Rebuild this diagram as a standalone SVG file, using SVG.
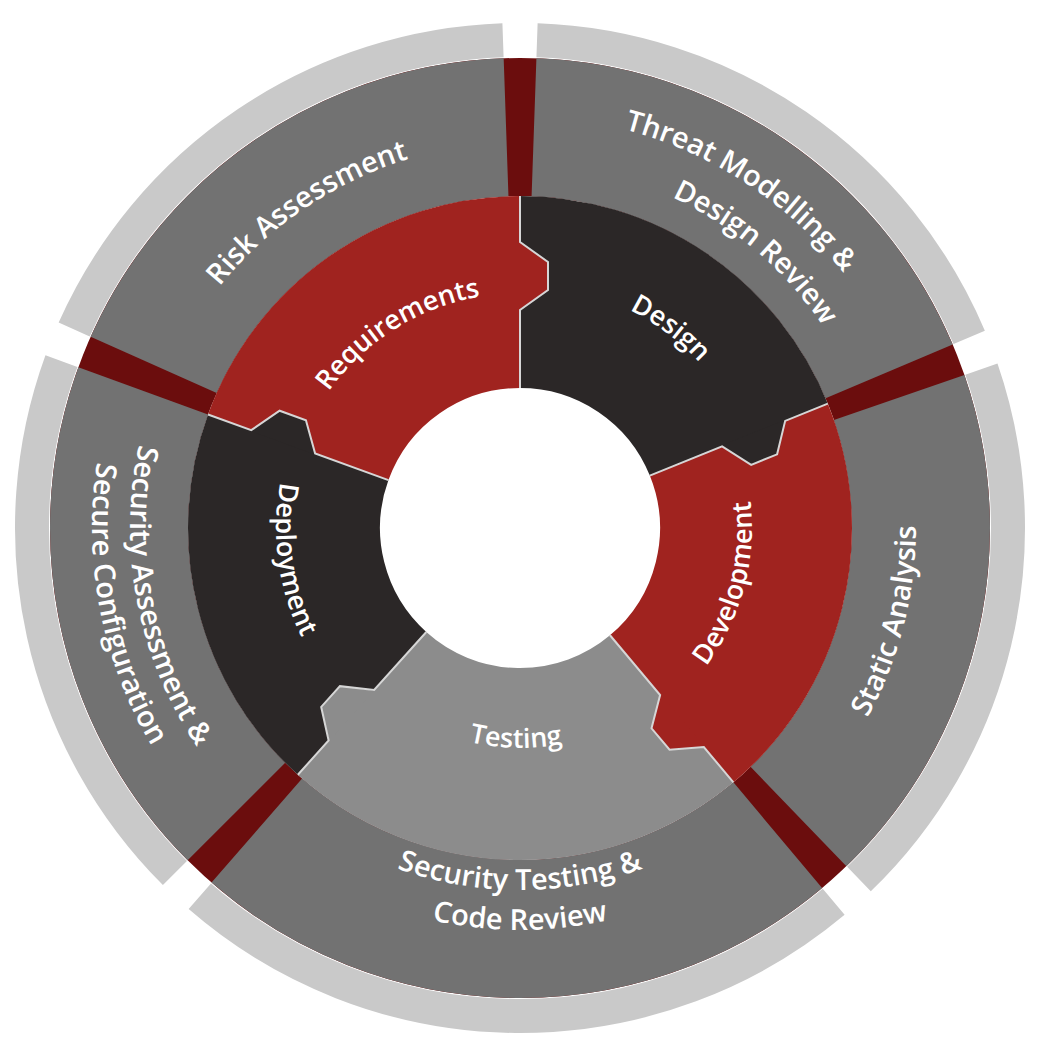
<svg xmlns="http://www.w3.org/2000/svg" width="1050" height="1050" viewBox="0 0 1050 1050">
<defs>
<style>
.seg{fill:none}
.t{font-family:"Open Sans","Liberation Sans",sans-serif;font-weight:600;fill:#fff;text-anchor:middle}
.to{font-size:29px}
.ti{font-size:27px}
.bd{fill:none;stroke:#d6d6d6;stroke-width:2}
</style>
<path id="c385" d="M248,800 A385 385 0 1 1 792,800"/>
<path id="c412" d="M228.7,819.3 A412 412 0 1 1 811.3,819.3"/>
<path id="c364" d="M262.6,785.4 A364 364 0 1 1 777.4,785.4"/>
<path id="c235" d="M353.8,694.2 A235 235 0 1 1 686.2,694.2"/>
<path id="c244" d="M347.5,700.5 A244 244 0 1 1 692.5,700.5"/>
<path id="a232" d="M356,364 A232 232 0 1 0 684,364"/>
<path id="a220" d="M364.4,372.4 A220 220 0 1 0 675.6,372.4"/>
<path id="a244" d="M347.5,355.5 A244 244 0 1 0 692.5,355.5"/>
<path id="a396" d="M240,248 A396 396 0 1 0 800,248"/>
<path id="a362" d="M264,272 A362 362 0 1 0 776,272"/>
<path id="a402" d="M235.7,243.7 A402 402 0 1 0 804.3,243.7"/>
<path id="a390" d="M244.2,252.2 A390 390 0 1 0 795.8,252.2"/>
<path id="a428" d="M217.4,225.4 A428 428 0 1 0 822.6,225.4"/>
</defs>
<rect width="1050" height="1050" fill="#fff"/>
<g id="outer-ring">
<circle cx="520" cy="528" r="401" fill="none" stroke="#6b0d0d" stroke-width="138"/>
</g>
<g id="risk-assessment">
<circle class="seg" cx="520" cy="528" r="488" pathLength="360" stroke="#c9c9c9" stroke-width="34" stroke-dasharray="64 296" transform="rotate(204 520 528)"/>
<circle class="seg" cx="520" cy="528" r="401" pathLength="360" stroke="#727272" stroke-width="138" stroke-dasharray="64 296" transform="rotate(204 520 528)"/>
<text class="t to"><textPath href="#c385" startOffset="37.4%">Risk Assessment</textPath></text>
</g>
<g id="threat-modelling">
<circle class="seg" cx="520" cy="528" r="488" pathLength="360" stroke="#c9c9c9" stroke-width="34" stroke-dasharray="65 295" transform="rotate(-88 520 528)"/>
<circle class="seg" cx="520" cy="528" r="401" pathLength="360" stroke="#727272" stroke-width="138" stroke-dasharray="65 295" transform="rotate(-88 520 528)"/>
<text class="t to"><textPath href="#c412" startOffset="62.3%">Threat Modelling &amp;</textPath></text>
<text class="t to"><textPath href="#c364" startOffset="65%">Design Review</textPath></text>
</g>
<g id="static-analysis">
<circle class="seg" cx="520" cy="528" r="488" pathLength="360" stroke="#c9c9c9" stroke-width="34" stroke-dasharray="65 295" transform="rotate(-19 520 528)"/>
<circle class="seg" cx="520" cy="528" r="401" pathLength="360" stroke="#727272" stroke-width="138" stroke-dasharray="65 295" transform="rotate(-19 520 528)"/>
<text class="t to"><textPath href="#a396" startOffset="78.1%">Static Analysis</textPath></text>
</g>
<g id="security-testing">
<circle class="seg" cx="520" cy="528" r="488" pathLength="360" stroke="#c9c9c9" stroke-width="34" stroke-dasharray="81 279" transform="rotate(50 520 528)"/>
<circle class="seg" cx="520" cy="528" r="401" pathLength="360" stroke="#727272" stroke-width="138" stroke-dasharray="81 279" transform="rotate(50 520 528)"/>
<text class="t to"><textPath href="#a362" startOffset="50%">Security Testing &amp;</textPath></text>
<text class="t to"><textPath href="#a402" startOffset="50%">Code Review</textPath></text>
</g>
<g id="security-assessment">
<circle class="seg" cx="520" cy="528" r="488" pathLength="360" stroke="#c9c9c9" stroke-width="34" stroke-dasharray="65 295" transform="rotate(135 520 528)"/>
<circle class="seg" cx="520" cy="528" r="401" pathLength="360" stroke="#727272" stroke-width="138" stroke-dasharray="65 295" transform="rotate(135 520 528)"/>
<text class="t to"><textPath href="#a390" startOffset="20.7%">Security Assessment &amp;</textPath></text>
<text class="t to"><textPath href="#a428" startOffset="20.7%">Secure Configuration</textPath></text>
</g>
<g id="requirements">
<circle class="seg" cx="520" cy="528" r="236" pathLength="360" stroke="#a0231f" stroke-width="192" stroke-dasharray="70 290" transform="rotate(200 520 528)"/>
</g>
<g id="design">
<circle class="seg" cx="520" cy="528" r="236" pathLength="360" stroke="#2b2727" stroke-width="192" stroke-dasharray="68 292" transform="rotate(-90 520 528)"/>
</g>
<g id="development">
<circle class="seg" cx="520" cy="528" r="236" pathLength="360" stroke="#a0231f" stroke-width="192" stroke-dasharray="72 288" transform="rotate(-22 520 528)"/>
</g>
<g id="testing">
<circle class="seg" cx="520" cy="528" r="236" pathLength="360" stroke="#8c8c8c" stroke-width="192" stroke-dasharray="82 278" transform="rotate(50 520 528)"/>
</g>
<g id="deployment">
<circle class="seg" cx="520" cy="528" r="236" pathLength="360" stroke="#2b2727" stroke-width="192" stroke-dasharray="68 292" transform="rotate(132 520 528)"/>
</g>
<g id="connectors">
<g transform="rotate(0 520 528)"><polygon points="519,310 548,290 548,262 519,242" fill="#a0231f"/><polyline class="bd" points="520,388 520,310 548,290 548,262 520,242 520,196"/></g>
<g transform="rotate(68 520 528)"><polygon points="519,310 548,290 548,262 519,242" fill="#2b2727"/><polyline class="bd" points="520,388 520,310 548,290 548,262 520,242 520,196"/></g>
<g transform="rotate(140 520 528)"><polygon points="519,310 548,290 548,262 519,242" fill="#a0231f"/><polyline class="bd" points="520,388 520,310 548,290 548,262 520,242 520,196"/></g>
<g transform="rotate(222 520 528)"><polygon points="519,310 548,290 548,262 519,242" fill="#8c8c8c"/><polyline class="bd" points="520,388 520,310 548,290 548,262 520,242 520,196"/></g>
<g transform="rotate(290 520 528)"><polygon points="519,310 548,290 548,262 519,242" fill="#2b2727"/><polyline class="bd" points="520,388 520,310 548,290 548,262 520,242 520,196"/></g>
</g>
<g id="inner-labels">
<text class="t ti"><textPath href="#c235" startOffset="38.1%">Requirements</textPath></text>
<text class="t ti"><textPath href="#c244" startOffset="63.7%">Design</textPath></text>
<text class="t ti"><textPath href="#a232" startOffset="77.8%">Development</textPath></text>
<text class="t ti"><textPath href="#a220" startOffset="49.6%">Testing</textPath></text>
<text class="t ti"><textPath href="#a244" startOffset="19.6%">Deployment</textPath></text>
</g>
</svg>
